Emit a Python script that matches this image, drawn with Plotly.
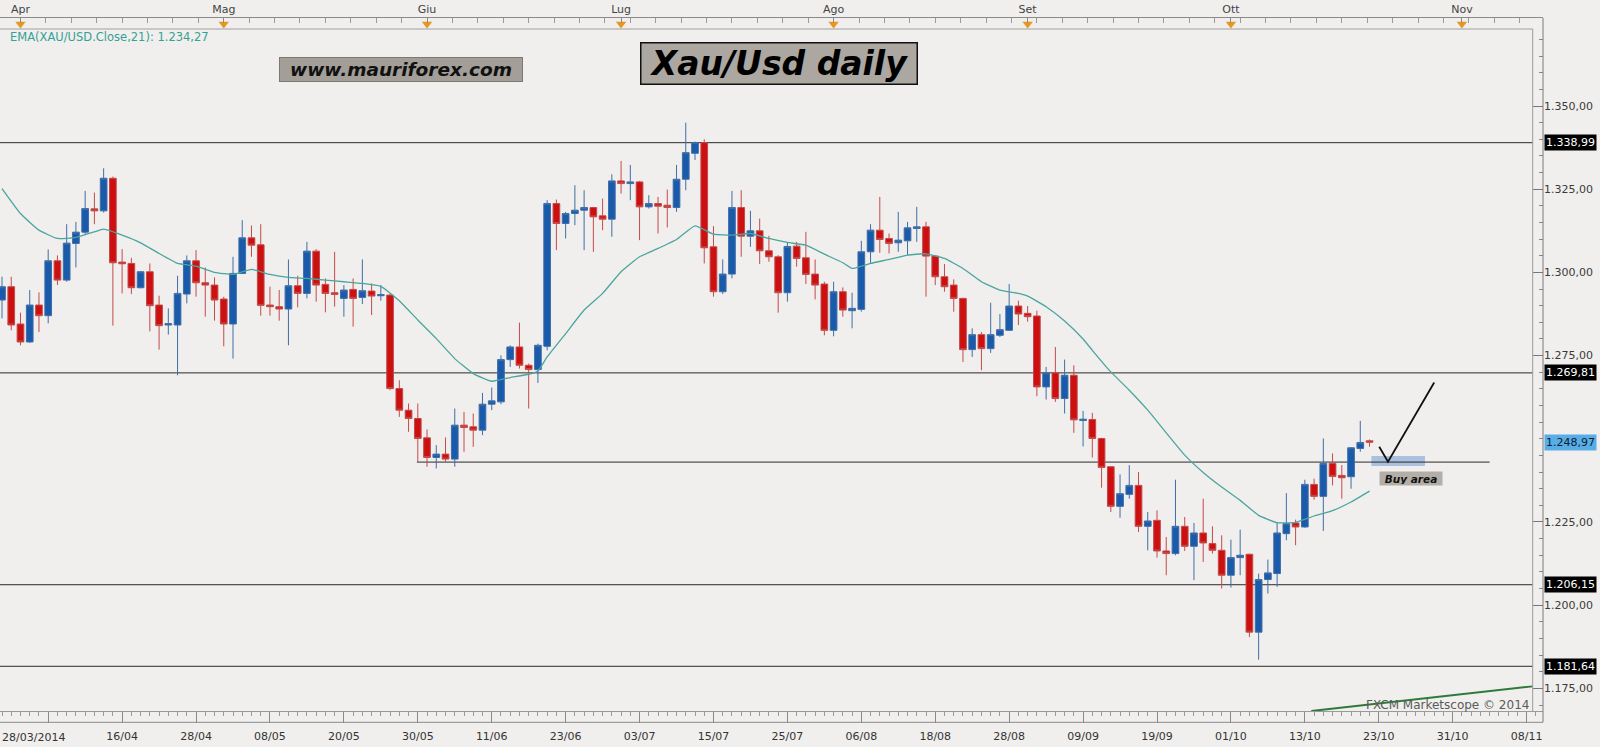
import plotly.graph_objects as go

# ---------------- data ----------------
opens = [1291.7, 1295.7, 1284.5, 1279.1, 1290.2, 1287.0, 1303.5, 1297.7, 1308.7, 1312.1,
         1319.1, 1318.5, 1328.3, 1303.1, 1302.7, 1295.4, 1300.2, 1290.2, 1284.2, 1284.2,
         1293.5, 1303.5, 1296.9, 1296.2, 1292.0, 1284.5, 1299.7, 1310.4, 1308.3, 1290.2,
         1289.7, 1289.0, 1296.0, 1293.7, 1306.4, 1296.4, 1293.9, 1292.2, 1294.9, 1292.5,
         1294.4, 1293.0, 1293.2, 1265.1, 1258.6, 1256.1, 1250.3, 1244.4, 1245.4, 1243.9,
         1254.1, 1253.6, 1252.6, 1260.4, 1261.1, 1273.8, 1277.6, 1272.1, 1270.8, 1277.8,
         1320.7, 1314.7, 1317.7, 1318.7, 1319.5, 1317.0, 1316.0, 1327.5, 1326.7, 1327.2,
         1319.7, 1320.7, 1320.2, 1319.5, 1328.0, 1335.8, 1339.0, 1307.7, 1294.2, 1299.5,
         1319.5, 1310.9, 1312.5, 1306.5, 1304.7, 1293.9, 1307.9, 1304.4, 1299.5, 1296.5,
         1282.6, 1294.2, 1288.5, 1288.9, 1306.2, 1312.7, 1310.2, 1308.9, 1309.5, 1313.2,
         1313.7, 1304.9, 1298.7, 1296.2, 1292.2, 1276.8, 1281.3, 1277.1, 1281.1, 1282.6,
         1289.9, 1287.7, 1286.9, 1265.6, 1269.8, 1262.1, 1269.1, 1255.5, 1255.8, 1250.1,
         1241.6, 1229.7, 1233.3, 1236.0, 1223.7, 1225.5, 1216.3, 1215.5, 1223.7, 1217.7,
         1221.7, 1218.5, 1216.5, 1209.0, 1214.3, 1215.3, 1191.9, 1207.7, 1209.5, 1221.5,
         1224.7, 1223.5, 1236.3, 1232.7, 1242.6, 1239.0, 1238.6, 1247.1, 1249.4]
highs = [1298.7, 1298.7, 1287.9, 1294.7, 1294.0, 1306.9, 1305.1, 1314.5, 1315.2, 1324.5,
         1324.0, 1331.3, 1328.8, 1307.0, 1304.4, 1300.4, 1302.7, 1293.0, 1289.2, 1299.0,
         1305.1, 1306.7, 1301.5, 1298.5, 1292.7, 1304.7, 1315.7, 1314.1, 1314.5, 1295.7,
         1294.7, 1303.9, 1299.0, 1309.2, 1307.0, 1298.2, 1306.2, 1296.2, 1298.2, 1303.9,
         1296.7, 1296.2, 1293.5, 1267.6, 1260.6, 1260.6, 1252.8, 1248.1, 1250.4, 1259.1,
         1258.1, 1257.6, 1263.8, 1265.4, 1275.1, 1278.1, 1284.9, 1272.6, 1278.6, 1321.7,
         1321.9, 1318.2, 1326.2, 1324.7, 1319.7, 1322.2, 1329.5, 1333.5, 1332.3, 1327.5,
         1323.2, 1322.7, 1324.9, 1332.3, 1345.0, 1339.3, 1340.0, 1313.9, 1303.9, 1324.5,
         1324.7, 1318.5, 1316.2, 1311.0, 1305.2, 1309.0, 1309.2, 1312.2, 1303.9, 1297.2,
         1297.2, 1295.5, 1293.9, 1309.5, 1314.5, 1322.7, 1311.7, 1318.2, 1315.2, 1319.7,
         1315.2, 1305.2, 1302.5, 1297.9, 1292.4, 1283.2, 1282.1, 1290.9, 1287.5, 1296.5,
         1291.5, 1289.9, 1288.5, 1271.6, 1277.6, 1273.8, 1272.1, 1258.4, 1257.8, 1250.3,
         1241.8, 1239.3, 1242.1, 1240.0, 1228.0, 1228.5, 1220.5, 1237.7, 1226.5, 1224.7,
         1232.0, 1223.7, 1221.0, 1219.7, 1222.7, 1215.5, 1209.5, 1213.7, 1224.7, 1233.7,
         1225.7, 1237.7, 1238.0, 1250.1, 1245.6, 1242.1, 1247.5, 1255.4, 1249.8]
lows = [1286.2, 1282.6, 1278.1, 1278.8, 1282.1, 1284.7, 1296.2, 1297.2, 1301.5, 1311.2,
        1314.5, 1318.0, 1284.0, 1293.7, 1293.5, 1295.2, 1282.3, 1276.8, 1281.3, 1269.1,
        1290.7, 1292.7, 1286.7, 1285.5, 1277.8, 1274.1, 1299.5, 1304.7, 1287.0, 1287.0,
        1285.5, 1278.1, 1289.5, 1292.2, 1291.2, 1288.0, 1289.7, 1286.7, 1283.7, 1290.5,
        1287.2, 1291.5, 1264.6, 1256.6, 1252.1, 1243.1, 1241.6, 1241.1, 1243.1, 1241.6,
        1246.1, 1247.6, 1251.1, 1258.6, 1260.4, 1271.6, 1271.1, 1259.1, 1266.8, 1276.6,
        1306.7, 1310.2, 1314.2, 1306.7, 1306.2, 1312.7, 1310.7, 1323.7, 1321.7, 1309.7,
        1319.2, 1311.7, 1313.5, 1318.2, 1324.7, 1333.8, 1302.7, 1292.7, 1293.5, 1298.2,
        1304.7, 1307.7, 1302.5, 1303.2, 1287.9, 1291.2, 1301.7, 1296.5, 1291.9, 1281.1,
        1280.8, 1286.7, 1283.2, 1288.2, 1302.7, 1305.9, 1305.7, 1306.2, 1305.2, 1309.2,
        1292.7, 1296.2, 1294.2, 1288.2, 1273.1, 1274.6, 1270.6, 1275.8, 1280.6, 1282.4,
        1284.2, 1285.2, 1262.8, 1261.8, 1261.1, 1257.6, 1251.8, 1247.7, 1244.4, 1235.3,
        1228.0, 1226.3, 1232.0, 1222.0, 1216.5, 1214.3, 1209.0, 1215.0, 1216.3, 1207.5,
        1213.0, 1215.5, 1205.0, 1205.3, 1209.0, 1190.4, 1183.6, 1203.5, 1205.5, 1219.5,
        1218.0, 1223.3, 1231.7, 1222.3, 1236.0, 1232.0, 1235.0, 1246.1, 1247.6]
closes = [1295.7, 1284.2, 1279.1, 1290.2, 1287.0, 1303.5, 1297.7, 1308.8, 1312.1, 1319.2,
          1318.5, 1328.3, 1302.9, 1302.6, 1295.4, 1300.2, 1290.0, 1284.0, 1284.6, 1293.7,
          1303.5, 1296.9, 1296.2, 1291.7, 1284.5, 1299.7, 1310.4, 1308.2, 1290.1, 1289.7,
          1289.0, 1296.0, 1293.7, 1306.4, 1296.2, 1293.7, 1293.4, 1294.7, 1292.2, 1294.5,
          1292.9, 1293.3, 1265.1, 1258.6, 1256.1, 1250.1, 1244.4, 1245.4, 1243.9, 1254.1,
          1253.4, 1252.6, 1260.4, 1261.4, 1273.8, 1277.6, 1272.1, 1270.8, 1278.1, 1320.7,
          1314.7, 1317.7, 1318.7, 1319.5, 1316.7, 1316.0, 1327.5, 1326.7, 1327.2, 1319.7,
          1320.7, 1319.9, 1319.5, 1328.0, 1336.0, 1339.0, 1307.4, 1294.2, 1299.5, 1319.5,
          1310.9, 1312.5, 1306.5, 1304.7, 1293.9, 1307.8, 1304.2, 1299.4, 1296.2, 1282.6,
          1294.2, 1288.7, 1289.2, 1306.2, 1312.7, 1309.9, 1308.7, 1309.7, 1313.4, 1313.7,
          1304.9, 1298.7, 1295.7, 1292.2, 1276.8, 1281.3, 1277.1, 1281.3, 1282.8, 1289.9,
          1287.5, 1286.7, 1265.6, 1269.8, 1262.1, 1269.1, 1255.7, 1255.9, 1250.1, 1241.4,
          1229.7, 1233.5, 1236.0, 1223.7, 1225.3, 1216.3, 1215.5, 1223.7, 1217.7, 1221.7,
          1218.7, 1216.5, 1209.0, 1214.3, 1215.0, 1191.9, 1207.7, 1209.7, 1221.7, 1224.5,
          1223.5, 1236.3, 1232.7, 1242.6, 1238.7, 1238.3, 1247.3, 1248.9, 1248.97]

# EMA(21) as drawn on the chart, sampled at bar indices
ema_idx = [0, 2, 4, 6, 8, 10, 11, 13, 15, 17, 19, 21, 23, 25, 27, 29, 31, 33, 35, 37,
           39, 41, 43, 45, 47, 49, 51, 53, 55, 57, 58, 59, 61, 63, 65, 67, 69, 71, 73, 75,
           77, 79, 81, 83, 85, 87, 89, 91, 92, 94, 96, 98, 100, 102, 104, 106, 108, 110,
           111, 113, 115, 117, 118, 120, 122, 124, 126, 128, 130, 132, 134, 136, 138, 140,
           142, 144, 146, 148]
ema_vals = [1325.2, 1317.7, 1312.7, 1310.2, 1310.5, 1312.2, 1313.0, 1311.2, 1308.9, 1305.7,
            1302.7, 1301.9, 1300.0, 1299.4, 1300.9, 1299.4, 1298.5, 1298.2, 1297.7, 1297.2,
            1296.7, 1295.8, 1291.5, 1285.7, 1280.1, 1274.1, 1269.6, 1267.3, 1268.4, 1269.4,
            1270.4, 1274.6, 1281.6, 1288.7, 1293.7, 1300.2, 1304.7, 1307.2, 1309.9, 1314.0,
            1311.5, 1311.2, 1311.7, 1310.2, 1309.0, 1308.2, 1305.5, 1302.9, 1301.2, 1302.7,
            1303.9, 1305.2, 1305.6, 1304.2, 1301.2, 1297.2, 1294.7, 1293.7, 1292.9, 1289.7,
            1285.4, 1280.0, 1276.6, 1270.1, 1264.6, 1258.6, 1251.8, 1245.1, 1239.9, 1235.5,
            1231.5, 1227.0, 1224.8, 1224.9, 1226.8, 1228.4, 1231.0, 1234.27]

levels = [1338.99, 1269.81, 1206.15, 1181.64]
level_labels = ["1.338,99", "1.269,81", "1.206,15", "1.181,64"]
support_level = 1243.0
last_price = 1248.97
last_price_label = "1.248,97"

price_ticks = [1175, 1200, 1225, 1275, 1300, 1325, 1350]
price_tick_labels = ["1.175,00", "1.200,00", "1.225,00", "1.275,00", "1.300,00", "1.325,00", "1.350,00"]

month_idx = [2, 24, 46, 67, 90, 111, 133, 158]
month_labels = ["Apr", "Mag", "Giu", "Lug", "Ago", "Set", "Ott", "Nov"]

date_idx = [5, 13, 21, 29, 37, 45, 53, 61, 69, 77, 85, 93, 101, 109, 117, 125, 133, 141, 149, 157, 165]
date_labels = ["", "16/04", "28/04", "08/05", "20/05", "30/05", "11/06", "23/06", "03/07", "15/07",
               "25/07", "06/08", "18/08", "28/08", "09/09", "19/09", "01/10", "13/10", "23/10",
               "31/10", "08/11"]
first_date_label = "28/03/2014"

# drawing annotations (bar index / price)
check_x = [149.05, 150.0, 155.0]
check_y = [1247.6, 1243.1, 1266.9]
trend_x = [141.7, 165.66]
trend_y = [1168.2, 1175.6]

# ---------------- layout geometry ----------------
W, H = 1600, 747
MR, MB = 57, 36.3
PW = W - MR          # plot width in px
PH = H - MB          # plot height in px


def py(px):
    return 1 - px / PH


def pxx(px):
    return px / PW


X0 = -0.2165
X1 = X0 + PW / 9.24
X_BORDER = (1532.7 - 2) / 9.24
Y_RANGE = [1168.2, 1373.15]

BG = "#f0efed"
FONT = "DejaVu Sans"

bars = list(range(len(opens)))

fig = go.Figure()

fig.add_trace(go.Candlestick(
    x=bars, open=opens, high=highs, low=lows, close=closes,
    increasing=dict(line=dict(color="#3f6ea8", width=1), fillcolor="#1a5aab"),
    decreasing=dict(line=dict(color="#c44a4a", width=1), fillcolor="#cc1010"),
    whiskerwidth=0, showlegend=False, hoverinfo="skip", xaxis="x", yaxis="y"))

fig.add_trace(go.Scatter(
    x=ema_idx, y=ema_vals, mode="lines",
    line=dict(color="#4aa59f", width=1.3, shape="spline", smoothing=0.4),
    showlegend=False, hoverinfo="skip"))

fig.add_trace(go.Scatter(
    x=check_x, y=check_y, mode="lines", line=dict(color="#111111", width=1.8),
    showlegend=False, hoverinfo="skip"))

fig.add_trace(go.Scatter(
    x=trend_x, y=trend_y, mode="lines", line=dict(color="#2e7a3c", width=2),
    showlegend=False, hoverinfo="skip", cliponaxis=False))

fig.add_trace(go.Scatter(
    x=month_idx, y=[0.45] * len(month_idx), xaxis="x2", yaxis="y2", mode="markers",
    marker=dict(symbol="triangle-down", size=9, color="#e8961e", line=dict(width=0)),
    showlegend=False, hoverinfo="skip"))

shapes = []
# buy zone rectangle
shapes.append(dict(type="rect", xref="x", yref="y", x0=148.2, x1=154.0, y0=1241.8, y1=1244.8,
                   fillcolor="#a9c1de", line=dict(width=0), layer="below"))
for lv in levels:
    shapes.append(dict(type="line", xref="x", yref="y", x0=X0, x1=X_BORDER, y0=lv, y1=lv,
                       line=dict(color="#2a2a2a", width=1), layer="below"))
shapes.append(dict(type="line", xref="x", yref="y", x0=44.9, x1=161, y0=support_level, y1=support_level,
                   line=dict(color="#2a2a2a", width=1), layer="below"))
# plot frame
shapes.append(dict(type="line", xref="paper", yref="paper", x0=pxx(1532.7), x1=pxx(1532.7),
                   y0=0, y1=py(29), line=dict(color="#9a9a9a", width=1)))
shapes.append(dict(type="line", xref="paper", yref="paper", x0=0, x1=pxx(1532.7),
                   y0=py(29), y1=py(29), line=dict(color="#a0a0a0", width=1)))
shapes.append(dict(type="line", xref="paper", yref="paper", x0=0, x1=1,
                   y0=py(722), y1=py(722), line=dict(color="#8a8a8a", width=1)))
shapes.append(dict(type="line", xref="paper", yref="paper", x0=1, x1=1,
                   y0=py(722), y1=py(18), line=dict(color="#7a7a7a", width=1)))

annotations = []
annotations.append(dict(xref="paper", yref="paper", x=pxx(8), y=py(36.5), xanchor="left", yanchor="middle",
                        text="EMA(XAU/USD.Close,21): 1.234,27", showarrow=False,
                        font=dict(family=FONT, size=11.5, color="#35a094")))
annotations.append(dict(xref="paper", yref="paper", x=pxx(401), y=py(69), xanchor="center", yanchor="middle",
                        text="<b><i>www.mauriforex.com</i></b>", showarrow=False,
                        font=dict(family=FONT, size=18.5, color="#111111"),
                        bgcolor="#a39e98", bordercolor="#7d7872", borderwidth=1, borderpad=1,
                        width=240, height=21))
annotations.append(dict(xref="paper", yref="paper", x=pxx(779), y=py(63), xanchor="center", yanchor="middle",
                        text="<b><i>Xau/Usd daily</i></b>", showarrow=False,
                        font=dict(family=FONT, size=33, color="#000000"),
                        bgcolor="#aca7a1", bordercolor="#111111", borderwidth=1.5, borderpad=1,
                        width=273, height=38))
annotations.append(dict(xref="x", yref="y", x=152.5, y=1238.0, xanchor="center", yanchor="middle",
                        text="<b><i>Buy area</i></b>", showarrow=False,
                        font=dict(family=FONT, size=10.5, color="#111111"),
                        bgcolor="#b3aea8", borderpad=1, width=60, height=11))
annotations.append(dict(xref="paper", yref="paper", x=pxx(1531), y=py(705), xanchor="right", yanchor="middle",
                        text="FXCM Marketscope © 2014", showarrow=False,
                        font=dict(family=FONT, size=12, color="#5a5a5a")))
annotations.append(dict(xref="paper", yref="paper", x=0, y=py(737), xanchor="left", yanchor="middle",
                        text=first_date_label, showarrow=False,
                        font=dict(family=FONT, size=11, color="#333333")))
for lv, lab in zip(levels, level_labels):
    annotations.append(dict(xref="paper", yref="y", x=pxx(1544), y=lv, xanchor="left", yanchor="middle",
                            text=lab, showarrow=False, font=dict(family=FONT, size=11, color="#ffffff"),
                            bgcolor="#000000", borderpad=1))
annotations.append(dict(xref="paper", yref="y", x=pxx(1544), y=last_price, xanchor="left", yanchor="middle",
                        text=last_price_label, showarrow=False, font=dict(family=FONT, size=11, color="#0d1d33"),
                        bgcolor="#58ade6", borderpad=1))

fig.update_layout(
    width=W, height=H,
    margin=dict(l=0, r=MR, t=0, b=MB, pad=0),
    paper_bgcolor=BG, plot_bgcolor=BG,
    showlegend=False,
    boxgap=0.15, boxgroupgap=0.15,
    font=dict(family=FONT, size=11, color="#333333"),
    xaxis=dict(domain=[0, 1], anchor="y", range=[X0, X1], tickmode="array",
               tickvals=date_idx, ticktext=date_labels, ticks="outside", ticklen=11,
               tickcolor="#8a8a8a", showline=True, linecolor="#9a9a9a", showgrid=False,
               zeroline=False, rangeslider=dict(visible=False), ticklabelstandoff=4,
               tickfont=dict(family=FONT, size=11, color="#333333"),
               minor=dict(tickmode="linear", tick0=5, dtick=1, ticks="outside", ticklen=4,
                          tickcolor="#9a9a9a", showgrid=False),
               fixedrange=True),
    xaxis2=dict(anchor="y2", side="top", matches="x", tickmode="array",
                tickvals=month_idx, ticktext=month_labels, ticks="inside", ticklen=5,
                tickcolor="#8a8a8a", showline=True, linecolor="#8a8a8a", showgrid=False,
                zeroline=False, tickfont=dict(family=FONT, size=11, color="#444444"),
                minor=dict(tickmode="linear", tick0=2, dtick=2.75, ticks="inside", ticklen=5,
                           tickcolor="#9a9a9a", showgrid=False)),
    yaxis=dict(domain=[0, py(29)], anchor="x", side="right", range=Y_RANGE,
               tickmode="array", tickvals=price_ticks, ticktext=price_tick_labels,
               ticks="inside", ticklen=10, tickcolor="#777777", showline=False,
               showgrid=False, zeroline=False,
               tickfont=dict(family=FONT, size=11, color="#3a3a3a"),
               minor=dict(tickmode="linear", tick0=1175, dtick=5, ticks="inside", ticklen=4,
                          tickcolor="#888888", showgrid=False),
               fixedrange=True),
    yaxis2=dict(domain=[py(29), py(18)], anchor="x2", range=[0, 1], visible=False, fixedrange=True),
    shapes=shapes,
    annotations=annotations,
)

fig.write_html("out.html",
               config={"displayModeBar": False},
               post_script="document.body.style.margin='0';document.body.style.overflow='hidden';")
